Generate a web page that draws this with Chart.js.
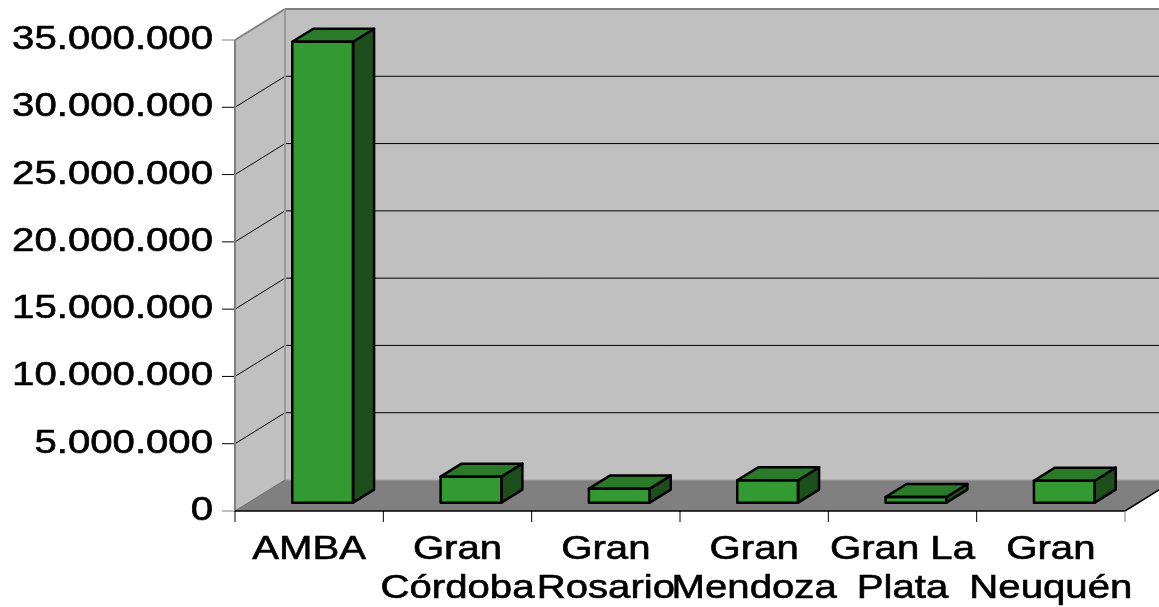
<!DOCTYPE html>
<html>
<head>
<meta charset="utf-8">
<script src="https://cdn.jsdelivr.net/npm/chart.js@4/dist/chart.umd.min.js"></script>
<style>
  html, body { margin: 0; padding: 0; background: #fff; }
  canvas { display: block; }
</style>
</head>
<body>
<canvas id="grafico" width="1159" height="607"></canvas>
<script>
// datos
const categorias = [["AMBA"], ["Gran", "Córdoba"], ["Gran", "Rosario"], ["Gran", "Mendoza"], ["Gran La", "Plata"], ["Gran", "Neuquén"]];
const valores = [34250000, 1930000, 1040000, 1660000, 420000, 1630000];
const ticksY = [0, 5000000, 10000000, 15000000, 20000000, 25000000, 30000000, 35000000];

// efecto 3D
const prof = { x: 50, y: -31 };   // profundidad total del piso
const corrBarra = 0.27;            // posicion de la cara frontal de la barra
const profBarra = 0.42;            // profundidad de la barra
const estiramiento = 1.235;        // el texto original esta estirado a lo ancho
const fuente = "32.5px 'Liberation Sans', Arial, sans-serif";

function formatear(v) {
  return String(v).replace(/\B(?=(\d{3})+(?!\d))/g, ".");
}

function textoAncho(ctx, texto, x, y, align) {
  ctx.save();
  ctx.scale(estiramiento, 1);
  ctx.textAlign = align;
  ctx.fillText(texto, x / estiramiento, y);
  ctx.lineWidth = 0.6;
  ctx.strokeStyle = "#000";
  ctx.strokeText(texto, x / estiramiento, y);
  ctx.restore();
}

function linea(ctx, x1, y1, x2, y2, color, ancho) {
  ctx.beginPath();
  ctx.moveTo(x1, y1);
  ctx.lineTo(x2, y2);
  ctx.strokeStyle = color;
  ctx.lineWidth = ancho;
  ctx.stroke();
}

function poligono(ctx, pts, relleno, borde, ancho) {
  ctx.beginPath();
  ctx.moveTo(pts[0][0], pts[0][1]);
  for (let i = 1; i < pts.length; i++) ctx.lineTo(pts[i][0], pts[i][1]);
  ctx.closePath();
  if (relleno) { ctx.fillStyle = relleno; ctx.fill(); }
  if (borde) { ctx.strokeStyle = borde; ctx.lineWidth = ancho; ctx.lineJoin = "round"; ctx.stroke(); }
}

const plugin3D = {
  id: "barras3d",
  beforeDatasetsDraw(chart) {
    const ctx = chart.ctx;
    const xs = chart.scales.x;
    const ys = chart.scales.y;
    const L = xs.left, R = xs.right;
    const B = ys.getPixelForValue(0);
    const T = ys.getPixelForValue(ticksY[ticksY.length - 1]);
    const W = chart.width;

    ctx.save();
    // pared del fondo
    ctx.fillStyle = "#c0c0c0";
    ctx.fillRect(L + prof.x, T + prof.y, W - (L + prof.x), B - T);
    // pared lateral
    poligono(ctx, [[L, T], [L + prof.x, T + prof.y], [L + prof.x, B + prof.y], [L, B]], "#c0c0c0");
    // piso
    poligono(ctx, [[L, B], [R, B], [R + prof.x, B + prof.y], [L + prof.x, B + prof.y]], "#808080");

    // lineas de division
    ticksY.forEach((v, i) => {
      const py = ys.getPixelForValue(v);
      const ultimo = i === ticksY.length - 1;
      if (i === 0) {
        linea(ctx, L + prof.x, py + prof.y, W, py + prof.y, "#a0a0a0", 1);
        linea(ctx, L, py, L + prof.x, py + prof.y, "#6a6a6a", 1);
      } else if (ultimo) {
        linea(ctx, L + prof.x, py + prof.y, W, py + prof.y, "#808080", 2);
        linea(ctx, L, py, L + prof.x, py + prof.y, "#808080", 2);
      } else {
        linea(ctx, L + prof.x, py + prof.y, W, py + prof.y, "#000", 1);
        linea(ctx, L, py, L + prof.x, py + prof.y, "#000", 1);
      }
      // marca del eje
      linea(ctx, L - 13, py, L, py, ultimo || i === 0 ? "#808080" : "#000", 1);
    });
    // esquina del fondo
    linea(ctx, L + prof.x, T + prof.y, L + prof.x, B + prof.y, "#9a9a9a", 2);
    // eje vertical
    linea(ctx, L, T, L, B + 1, "#808080", 2);
    // borde frontal y lateral del piso
    linea(ctx, L, B, R, B, "#000", 1.5);
    linea(ctx, R, B, R + prof.x, B + prof.y, "#000", 1.5);
    // marcas del eje x
    const n = categorias.length;
    for (let i = 0; i <= n; i++) {
      const px = L + (R - L) * i / n;
      linea(ctx, px, B, px, B + 11, i === n ? "#808080" : "#000", 1);
    }

    // textos
    ctx.fillStyle = "#000";
    ctx.font = fuente;
    ctx.textBaseline = "middle";
    ticksY.forEach(v => {
      textoAncho(ctx, formatear(v), L - 22, ys.getPixelForValue(v), "right");
    });
    ctx.textBaseline = "alphabetic";
    categorias.forEach((cat, i) => {
      const px = xs.getPixelForValue(i);
      cat.forEach((t, j) => textoAncho(ctx, t, px, B + 48 + j * 39, "center"));
    });
    ctx.restore();

    // las barras se dibujan un poco hacia el fondo
    ctx.save();
    ctx.translate(prof.x * corrBarra, prof.y * corrBarra);
  },
  afterDatasetsDraw(chart) {
    const ctx = chart.ctx;
    const dx = prof.x * profBarra, dy = prof.y * profBarra;
    chart.getDatasetMeta(0).data.forEach(barra => {
      const { x, y, base, width } = barra.getProps(["x", "y", "base", "width"], true);
      const xl = x - width / 2, xr = x + width / 2;
      // cara lateral
      poligono(ctx, [[xr, y], [xr + dx, y + dy], [xr + dx, base + dy], [xr, base]], "#1d4f1d", "#000", 2.5);
      // cara superior
      poligono(ctx, [[xl, y], [xl + dx, y + dy], [xr + dx, y + dy], [xr, y]], "#2a7a2a", "#000", 2.5);
      // contorno frontal
      ctx.strokeStyle = "#000";
      ctx.lineWidth = 2.5;
      ctx.strokeRect(xl, y, width, base - y);
    });
    ctx.restore();
  }
};

new Chart(document.getElementById("grafico"), {
  type: "bar",
  data: {
    labels: categorias,
    datasets: [{
      data: valores,
      backgroundColor: "#339933",
      borderColor: "#000",
      borderWidth: 0,
      borderSkipped: false,
      barPercentage: 0.41,
      categoryPercentage: 1,
      clip: false
    }]
  },
  options: {
    responsive: false,
    animation: false,
    devicePixelRatio: 1,
    layout: { padding: { left: 235, right: 34, top: 40, bottom: 96 } },
    plugins: { legend: { display: false }, tooltip: { enabled: false } },
    scales: {
      x: { display: false },
      y: { display: false, min: 0, max: 35000000 }
    }
  },
  plugins: [plugin3D]
});
</script>
</body>
</html>
